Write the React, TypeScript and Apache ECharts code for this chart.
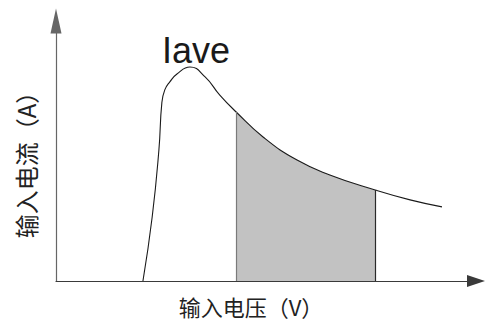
import React, { useEffect, useRef } from "react";
import * as echarts from "echarts";

// Curve I(V) (arbitrary units, axes 0..100)
const curveX = [20.7, 22.9, 24.5, 25.2, 25.9, 27.1, 28.8, 31.9, 35.5, 39.0, 42.9, 49.3, 57.4, 65.2, 76.0, 84.3, 91.9];
const curveY = [0, 24.6, 50.4, 68.5, 73.5, 76.6, 79.6, 82.3, 78.5, 71.5, 65.0, 55.4, 46.5, 40.8, 35.0, 31.2, 28.5];

// Input voltage range (shaded)
const rangeStart = 42.9;
const rangeEnd = 76.0;

const xLabel = "输入电压（V）";
const yLabel = "输入电流（A）";
const peakLabel = "Iave";
const rangeLabel = "输入电压范围";

export default function App() {
  const ref = useRef<HTMLDivElement>(null);

  useEffect(() => {
    if (!ref.current) return;
    const chart = echarts.init(ref.current, null, { renderer: "svg" });

    const curve = curveX.map((x, i) => [x, curveY[i]]);
    const shaded = curve.filter((p) => p[0] >= rangeStart && p[0] <= rangeEnd);
    const yAt = (x: number) => {
      const p = curve.find((q) => q[0] === x);
      return p ? p[1] : 0;
    };

    const cjk = '"Noto Sans CJK SC", "Noto Sans", sans-serif';

    chart.setOption({
      animation: false,
      backgroundColor: "#ffffff",
      grid: { left: 56, right: 10, top: 21, bottom: 41 },
      xAxis: {
        type: "value",
        min: 0,
        max: 100,
        axisLine: {
          show: true,
          onZero: false,
          symbol: ["none", "triangle"],
          symbolSize: [12, 18],
          lineStyle: { color: "#3a3a3a", width: 1.2 },
        },
        axisTick: { show: false },
        axisLabel: { show: false },
        splitLine: { show: false },
      },
      yAxis: {
        type: "value",
        min: 0,
        max: 100,
        axisLine: {
          show: true,
          onZero: false,
          symbol: ["none", "triangle"],
          symbolSize: [11, 25],
          lineStyle: { color: "#666666", width: 1.2 },
        },
        axisTick: { show: false },
        axisLabel: { show: false },
        splitLine: { show: false },
      },
      series: [
        {
          type: "line",
          data: shaded,
          smooth: 0.5,
          symbol: "none",
          lineStyle: { width: 0 },
          areaStyle: { color: "#c2c2c2", opacity: 1 },
          z: 1,
          markLine: {
            silent: true,
            symbol: ["none", "none"],
            label: { show: false },
            data: [
              [
                { coord: [rangeStart, 0], lineStyle: { color: "#7a7a7a", width: 1.2, type: "solid" } },
                { coord: [rangeStart, yAt(rangeStart)] },
              ],
              [
                { coord: [rangeEnd, 0], lineStyle: { color: "#2a2a2a", width: 1.2, type: "solid" } },
                { coord: [rangeEnd, yAt(rangeEnd)] },
              ],
            ],
          },
        },
        {
          type: "line",
          data: curve,
          smooth: 0.5,
          symbol: "none",
          lineStyle: { color: "#1a1a1a", width: 1.1 },
          z: 3,
        },
      ],
      graphic: [
        {
          type: "text",
          x: 162,
          y: 50,
          style: {
            text: peakLabel,
            fill: "#1a1a1a",
            font: '36px "Liberation Sans", Arial, sans-serif',
            textAlign: "left",
            textVerticalAlign: "middle",
          },
        },
        {
          type: "text",
          x: 302,
          y: 224,
          style: {
            text: rangeLabel,
            fill: "#333333",
            font: "20px " + cjk,
            textAlign: "center",
            textVerticalAlign: "middle",
          },
        },
        {
          type: "text",
          x: 251,
          y: 306,
          style: {
            text: xLabel,
            fill: "#222222",
            font: "22px " + cjk,
            textAlign: "center",
            textVerticalAlign: "middle",
          },
        },
        {
          type: "text",
          x: 25,
          y: 159,
          rotation: Math.PI / 2,
          style: {
            text: yLabel,
            fill: "#222222",
            font: "24px " + cjk,
            textAlign: "center",
            textVerticalAlign: "middle",
          },
        },
      ],
    });

    return () => chart.dispose();
  }, []);

  return (
    <div
      ref={ref}
      style={{ position: "absolute", left: 0, top: 0, width: 486, height: 322 }}
    />
  );
}
